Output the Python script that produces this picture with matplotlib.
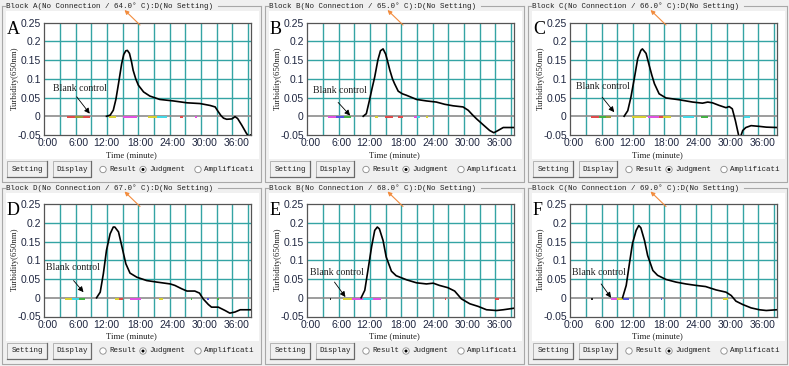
"""Six turbidity panels recreated from instrument screenshots."""

import matplotlib

matplotlib.use("Agg")
import matplotlib.pyplot as plt
from matplotlib.patches import Circle, Rectangle

W, H = 789, 366

PANEL_LETTERS = ["A", "B", "C", "D", "E", "F"]
BLOCK_NAMES = ["A", "B", "C", "D", "B", "C"]
TEMPERATURES = [64.0, 65.0, 66.0, 67.0, 68.0, 69.0]

Y_TICKS = [-0.05, 0, 0.05, 0.1, 0.15, 0.2, 0.25]
Y_TICK_LABELS = ["-0.05", "0", "0.05", "0.1", "0.15", "0.2", "0.25"]
X_TICK_LABELS = ["0:00", "6:00", "12:00", "18:00", "24:00", "30:00", "36:00"]
# label positions as printed by the instrument software (grid is every 3 min)
X_TICK_POS = [0.7, 6.6, 11.9, 18.4, 24.5, 30.6, 36.8]
X_GRID = [3, 6, 9, 12, 15, 18, 21, 24, 27, 30, 33, 36, 39]
Y_GRID = [0.05, 0.1, 0.15, 0.2]

A_T = [11.9, 12.6, 13.2, 13.7, 14.2, 14.8, 15.2, 15.6, 15.9, 16.3, 16.7, 17.0, 17.5,
       18.0, 19.0, 20.2, 22.1, 24.7, 27.3, 29.8, 31.7, 32.7, 33.3, 33.8, 34.3, 34.9,
       35.9, 36.5, 37.0, 37.8, 38.7, 39.1, 39.5]
A_Y = [0, 0.003, 0.016, 0.045, 0.087, 0.14, 0.165, 0.175, 0.176, 0.168, 0.145, 0.123,
       0.1, 0.083, 0.065, 0.054, 0.045, 0.041, 0.036, 0.034, 0.029, 0.025, 0.012, 0.002,
       -0.005, -0.008, -0.007, -0.001, -0.006, -0.024, -0.046, -0.053, -0.05]

B_T = [10.7, 11.3, 11.9, 12.4, 12.9, 13.5, 14.0, 14.5, 15.0, 15.4, 15.8, 16.3, 16.7,
       17.4, 18.2, 19.0, 20.9, 22.8, 24.7, 26.3, 27.9, 29.8, 30.8, 31.6, 32.4, 33.6,
       34.9, 35.7, 36.5, 37.5, 39.5]
B_Y = [0, 0.007, 0.043, 0.075, 0.105, 0.15, 0.175, 0.18, 0.166, 0.145, 0.123, 0.1,
       0.087, 0.067, 0.06, 0.056, 0.045, 0.041, 0.038, 0.032, 0.028, 0.025, 0.016, 0.004,
       -0.007, -0.022, -0.038, -0.044, -0.038, -0.03, -0.03]

C_T = [10.3, 11.0, 11.6, 12.3, 12.9, 13.5, 13.8, 14.5, 15.1, 15.6, 16.1, 17.0, 18.3,
       20.9, 23.4, 25.3, 26.3, 27.2, 28.5, 29.8, 30.4, 31.0, 31.6, 32.2, 32.45, 32.7,
       33.0, 33.6, 34.6, 36.2, 37.5, 39.5]
C_Y = [0, 0.015, 0.051, 0.105, 0.154, 0.176, 0.18, 0.168, 0.136, 0.11, 0.087, 0.06,
       0.049, 0.044, 0.038, 0.035, 0.038, 0.036, 0.029, 0.023, 0.026, 0.02, -0.012,
       -0.05, -0.065, -0.05, -0.038, -0.03, -0.025, -0.027, -0.029, -0.03]

D_T = [10.0, 10.7, 11.3, 11.9, 12.6, 13.2, 13.5, 14.2, 14.8, 15.6, 16.4, 17.7, 19.6,
       21.5, 24.1, 25.0, 26.3, 27.3, 28.8, 29.7, 30.4, 31.4, 32.0, 33.3, 34.6, 35.5,
       36.5, 37.5, 39.7]
D_Y = [0, 0.015, 0.064, 0.127, 0.171, 0.189, 0.189, 0.176, 0.14, 0.091, 0.066, 0.055,
       0.046, 0.042, 0.037, 0.033, 0.024, 0.018, 0.018, 0.0125, -0.003, -0.018, -0.025,
       -0.025, -0.034, -0.041, -0.038, -0.032, -0.032]

E_T = [10.3, 11.0, 11.6, 12.3, 12.9, 13.4, 13.8, 14.5, 15.1, 16.1, 17.0, 19.0, 20.9,
       22.8, 24.1, 25.3, 26.9, 28.2, 29.5, 31.1, 32.7, 34.3, 36.2, 37.5, 39.5]
E_Y = [0, 0.02, 0.073, 0.136, 0.18, 0.189, 0.184, 0.153, 0.109, 0.071, 0.059, 0.048,
       0.04, 0.037, 0.039, 0.033, 0.027, 0.018, -0.003, -0.016, -0.023, -0.032, -0.034,
       -0.032, -0.028]

F_T = [10.0, 10.7, 11.3, 11.9, 12.6, 13.1, 13.5, 14.2, 14.8, 15.8, 16.7, 18.3, 20.2,
       22.1, 24.1, 25.9, 27.9, 29.8, 30.8, 31.7, 33.0, 34.6, 36.2, 37.5, 39.5]
F_Y = [0, 0.033, 0.09, 0.145, 0.18, 0.193, 0.187, 0.153, 0.113, 0.073, 0.06, 0.049,
       0.042, 0.037, 0.033, 0.03, 0.021, 0.015, 0.006, -0.009, -0.018, -0.027, -0.032,
       -0.034, -0.032]

# short coloured traces of the other wells lying on the baseline
A_DASH = [(4.3, 5.8, "red"), (5.8, 7.5, "olive"), (7.5, 8.7, "red"), (12.3, 13.8, "yellow"),
          (15.1, 17.7, "magenta"), (19.9, 21.5, "yellow"), (21.5, 23.4, "cyan"),
          (26.0, 26.5, "red"), (28.8, 29.3, "magenta")]
B_DASH = [(4.0, 5.5, "magenta"), (5.5, 7.0, "blue"), (7.0, 8.4, "green"), (13.0, 13.5, "yellow"),
          (14.8, 16.4, "red"), (17.4, 18.3, "red"), (20.5, 21.0, "magenta"),
          (21.0, 21.5, "cyan"), (22.8, 23.1, "yellow")]
C_DASH = [(4.0, 5.5, "red"), (5.5, 6.8, "green"), (6.8, 7.8, "olive"), (11.9, 14.5, "yellow"),
          (14.8, 17.0, "magenta"), (17.0, 17.7, "red"), (17.7, 19.3, "yellow"),
          (21.5, 23.7, "cyan"), (25.0, 26.3, "green"), (33.3, 34.3, "cyan")]
D_DASH = [(4.0, 5.3, "yellow"), (5.3, 6.7, "cyan"), (6.7, 7.8, "green"), (13.5, 14.3, "yellow"),
          (14.3, 15.1, "red"), (16.4, 18.6, "magenta"), (22.0, 22.7, "yellow"),
          (28.0, 28.3, "green"), (31.2, 31.5, "blue"), (33.1, 33.4, "green")]
E_DASH = [(4.3, 4.6, "black"), (6.8, 8.5, "yellow"), (8.5, 10.7, "magenta"),
          (10.7, 12.6, "cyan"), (12.6, 14.2, "magenta"), (26.3, 26.6, "red"), (36.0, 36.7, "red")]
F_DASH = [(4.0, 4.3, "black"), (7.8, 9.0, "magenta"), (9.0, 10.0, "yellow"),
          (10.0, 11.3, "blue"), (17.3, 17.6, "blue"), (29.2, 30.1, "yellow")]

# "Blank control" label position, arrow tail and arrow head (data units)
BLANK_TEXT = [(1.7, 0.074), (1.0, 0.068), (1.1, 0.079), (0.3, 0.082), (0.45, 0.067), (0.3, 0.068)]
BLANK_FROM = [(6.2, 0.052), (5.9, 0.037), (6.1, 0.051), (5.6, 0.046), (5.2, 0.042), (5.9, 0.037)]
BLANK_TO = [(8.7, 0.007), (8.2, 0.002), (8.4, 0.011), (7.5, 0.015), (7.3, 0.002), (7.8, 0.0)]

CURVES = [(A_T, A_Y), (B_T, B_Y), (C_T, C_Y), (D_T, D_Y), (E_T, E_Y), (F_T, F_Y)]
DASHES = [A_DASH, B_DASH, C_DASH, D_DASH, E_DASH, F_DASH]

DASH_COLORS = {"red": "#e04848", "olive": "#9a9a30", "yellow": "#d8d030", "magenta": "#e050e0",
               "cyan": "#40d8e8", "green": "#40b040", "blue": "#5050e0", "black": "#202020"}

PANEL_ORIGINS = [(0, 0), (263, 0), (526, 0), (0, 181.5), (263, 181.5), (526, 181.5)]

MONO = "Liberation Mono"
SERIF = "Liberation Serif"
SANS = "Liberation Sans"
GRID_COLOR = "#34a4a4"
FRAME_COLOR = "#555555"
TICK_COLOR = "#1f2640"


def draw_chrome(bg, fg, x0, y0, block, temp):
    """Group box, white plot area, buttons and radio buttons of one panel."""
    box = "#a8a8a8"
    title_end = 218
    bg.plot([x0 + 2, x0 + 2, x0 + 261, x0 + 261], [y0 + 6, y0 + 182, y0 + 182, y0 + 6],
            color=box, lw=0.8)
    bg.plot([x0 + 2, x0 + 5], [y0 + 6, y0 + 6], color=box, lw=0.8)
    bg.plot([x0 + title_end, x0 + 261], [y0 + 6, y0 + 6], color=box, lw=0.8)
    bg.text(x0 + 6.5, y0 + 6.3, f"Block {block}(No Connection / {temp:.1f}° C):D(No Setting)",
            family=MONO, fontsize=5.45, ha="left", va="center", color="#202020")
    bg.add_patch(Rectangle((x0 + 6, y0 + 11), 253, 148, facecolor="white", edgecolor="none"))

    for bx, bw, label in [(7, 40, "Setting"), (53, 38, "Display")]:
        bg.add_patch(Rectangle((x0 + bx, y0 + 161), bw, 16, facecolor="#f0f0f0",
                               edgecolor="#b4b4b4", lw=0.7))
        bg.plot([x0 + bx, x0 + bx + bw, x0 + bx + bw], [y0 + 177, y0 + 177, y0 + 161],
                color="#6a6a6a", lw=0.9)
        bg.text(x0 + bx + bw / 2, y0 + 169.5, label, family=MONO, fontsize=5.45,
                ha="center", va="center", color="#202020")

    for cx, label, selected in [(103, "Result", False), (143, "Judgment", True),
                                (198, "Amplificati", False)]:
        bg.add_patch(Circle((x0 + cx, y0 + 169.5), 3.2, facecolor="white",
                            edgecolor="#8a8a8a", lw=0.6))
        if selected:
            bg.add_patch(Circle((x0 + cx, y0 + 169.5), 1.5, facecolor="black", edgecolor="none"))
        bg.text(x0 + cx + 6.5, y0 + 169.5, label, family=MONO, fontsize=5.45,
                ha="left", va="center", color="#202020")

    # orange pointer at the temperature in the title
    fg.annotate("", xy=(x0 + 124.5, y0 + 10), xytext=(x0 + 140, y0 + 25),
                arrowprops=dict(arrowstyle="-|>", color="#f28c3e", lw=0.8,
                                mutation_scale=6, shrinkA=0, shrinkB=0))


def draw_plot(fig, x0, y0, i):
    """Turbidity axes of one panel."""
    left, top, right, bottom = 44.3, 22.7, 250.7, 135.0
    ax = fig.add_axes([(x0 + left) / W, 1 - (y0 + bottom) / H,
                       (right - left) / W, (bottom - top) / H], zorder=2)
    ax.patch.set_alpha(0)
    ax.set_xlim(0, 39.5)
    ax.set_ylim(-0.05, 0.25)

    for gx in X_GRID:
        ax.axvline(gx, color=GRID_COLOR, lw=1.0, zorder=1)
    for gy in Y_GRID:
        ax.axhline(gy, color=GRID_COLOR, lw=1.0, zorder=1)
    ax.axhline(0, color="#8c8c8c", lw=1.2, zorder=2)

    for start, end, name in DASHES[i]:
        ax.plot([start, end], [-0.003, -0.003], color=DASH_COLORS[name], lw=1.4,
                solid_capstyle="butt", zorder=3)

    t, y = CURVES[i]
    ax.plot(t, y, color="black", lw=1.2, zorder=4)

    ax.set_xticks(X_TICK_POS)
    ax.set_xticklabels(X_TICK_LABELS)
    ax.set_yticks(Y_TICKS)
    ax.set_yticklabels(Y_TICK_LABELS)
    ax.tick_params(length=0, labelsize=7.5, labelcolor=TICK_COLOR, pad=2.5)
    for lab in ax.get_xticklabels() + ax.get_yticklabels():
        lab.set_family(SANS)
    for spine in ax.spines.values():
        spine.set_color(FRAME_COLOR)
        spine.set_linewidth(0.9)

    ax.annotate("", xy=BLANK_TO[i], xytext=BLANK_FROM[i],
                arrowprops=dict(arrowstyle="-|>", color="black", lw=0.6,
                                mutation_scale=8, shrinkA=0, shrinkB=0), zorder=5)
    ax.text(BLANK_TEXT[i][0], BLANK_TEXT[i][1], "Blank control", family=SERIF, fontsize=7,
            ha="left", va="center", color="#202020", zorder=5)

    fig.text((x0 + 7) / W, 1 - (y0 + 29) / H, PANEL_LETTERS[i], family=SERIF, fontsize=13,
             ha="left", va="center", color="black", zorder=3)
    fig.text((x0 + 15) / W, 1 - (y0 + 78) / H, "Turbidity(650nm)", family=SERIF,
             fontsize=6.3, rotation=90, ha="center", va="center", color="#202020", zorder=3)
    fig.text((x0 + 131.5) / W, 1 - (y0 + 155) / H, "Time (minute)", family=SERIF,
             fontsize=6.3, ha="center", va="center", color="#202020", zorder=3)


def main():
    fig = plt.figure(figsize=(W / 100, H / 100), dpi=100, facecolor="#f0f0f0")
    bg = fig.add_axes([0, 0, 1, 1], zorder=0)
    bg.set_xlim(0, W)
    bg.set_ylim(H, 0)
    bg.axis("off")
    fg = fig.add_axes([0, 0, 1, 1], zorder=10)
    fg.set_xlim(0, W)
    fg.set_ylim(H, 0)
    fg.axis("off")
    fg.patch.set_alpha(0)

    for i, (x0, y0) in enumerate(PANEL_ORIGINS):
        draw_chrome(bg, fg, x0, y0, BLOCK_NAMES[i], TEMPERATURES[i])
        draw_plot(fig, x0, y0, i)

    fig.savefig("out.png", dpi=100, facecolor=fig.get_facecolor())
    plt.close(fig)


if __name__ == "__main__":
    main()
